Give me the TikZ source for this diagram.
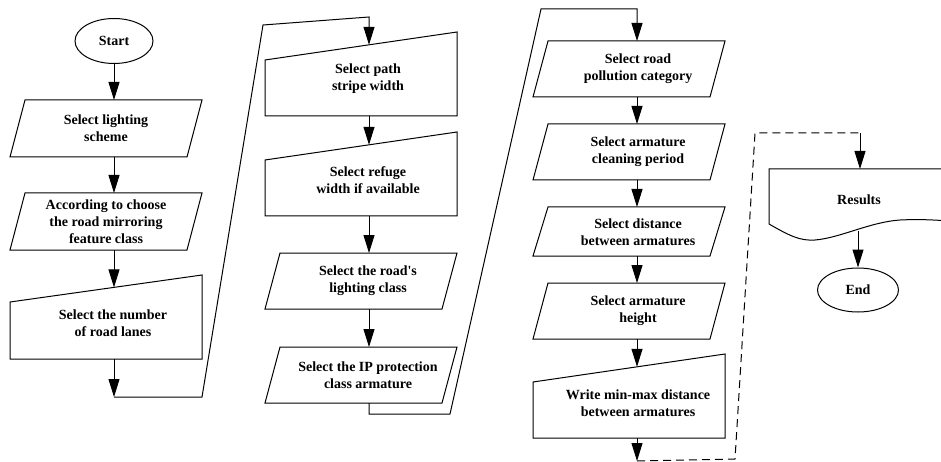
\documentclass[tikz,border=0pt]{standalone}
\usepackage{fontspec}
\setmainfont{Liberation Serif}
\usetikzlibrary{arrows.meta,calc,shapes.geometric}
\begin{document}
\begin{tikzpicture}[x=1pt,y=-1pt,
  box/.style={draw=black, line width=1pt, line join=miter},
  txt/.style={font=\bfseries\fontsize{14}{17}\selectfont, align=center, inner sep=0pt},
  link/.style={draw=black, line width=1pt},
  arr/.style={link, -{Triangle[length=18pt,width=11pt]}},
  dashlink/.style={link, dash pattern=on 8pt off 5pt},
]
\clip (0,0) rectangle (941,462);
\fill[white] (0,0) rectangle (941,462);

% ---------- column 1 ----------
\node[txt, box, ellipse, minimum width=78pt, minimum height=45pt] (start) at (114,41) {Start};

\draw[box] (25,100) -- (202,100) -- (187,157) -- (10,157) -- cycle;
\node[txt] (p1) at (106,128.5) {Select lighting\\scheme};
\coordinate (p1t) at (114,100); \coordinate (p1b) at (114,157);

\draw[box] (25,193) -- (202,193) -- (187,250) -- (10,250) -- cycle;
\node[txt] (p2) at (106,221.5) {According to choose\\the road mirroring\\feature class};
\coordinate (p2t) at (114,193); \coordinate (p2b) at (114,250);

\draw[box] (10,302) -- (202,275) -- (202,359) -- (10,359) -- cycle;
\node[txt] (mi1) at (113,323.5) {Select the number\\of road lanes};
\coordinate (mi1t) at (114,287.4); \coordinate (mi1b) at (114,359);

% ---------- column 2 ----------
\draw[box] (265,60) -- (457,32) -- (457,116) -- (265,116) -- cycle;
\node[txt] (mi2) at (368,79) {Select path\\stripe width};
\coordinate (mi2t) at (369,44.8); \coordinate (mi2b) at (369,116);

\draw[box] (265,160) -- (457,132) -- (457,216) -- (265,216) -- cycle;
\node[txt] (mi3) at (368,180) {Select refuge\\width if available};
\coordinate (mi3t) at (369,144.8); \coordinate (mi3b) at (369,216);

\draw[box] (280,253) -- (457,253) -- (442,309) -- (265,309) -- cycle;
\node[txt] (p3) at (368,281) {Select the road\textquotesingle s\\lighting class};
\coordinate (p3t) at (369,253); \coordinate (p3b) at (369,309);

\draw[box] (280,347) -- (457,347) -- (442,403) -- (265,403) -- cycle;
\node[txt] (p4) at (368,375) {Select the IP protection\\class armature};
\coordinate (p4t) at (369,347); \coordinate (p4b) at (369,403);

% ---------- column 3 ----------
\draw[box] (548,41) -- (725,41) -- (710,97) -- (533,97) -- cycle;
\node[txt] (p5) at (638,69) {Select road\\pollution category};
\coordinate (p5t) at (637,41); \coordinate (p5b) at (637,97);

\draw[box] (548,124) -- (725,124) -- (710,180) -- (533,180) -- cycle;
\node[txt] (p6) at (638,152) {Select armature\\cleaning period};
\coordinate (p6t) at (637,124); \coordinate (p6b) at (637,180);

\draw[box] (548,207) -- (725,207) -- (710,256) -- (533,256) -- cycle;
\node[txt] (p7) at (638,232) {Select distance\\between armatures};
\coordinate (p7t) at (637,207); \coordinate (p7b) at (637,256);

\draw[box] (548,283) -- (725,283) -- (710,339) -- (533,339) -- cycle;
\node[txt] (p8) at (638,311) {Select armature\\height};
\coordinate (p8t) at (637,283); \coordinate (p8b) at (637,339);

\draw[box] (533,382) -- (725,354) -- (725,438) -- (533,438) -- cycle;
\node[txt] (mi4) at (638,403) {Write min-max distance\\between armatures};
\coordinate (mi4t) at (637,366.8); \coordinate (mi4b) at (637,438);

% ---------- column 4 ----------
\draw[box] (769,169) -- (960,169) -- (960,222)
  .. controls (940,220) and (920,219) .. (900,220)
  .. controls (870,222) and (840,238) .. (815,240)
  .. controls (800,241) and (790,236) .. (769,224) -- cycle;
\node[txt] (res) at (859,200) {Results};
\coordinate (rest) at (860,169); \coordinate (resb) at (858,231);

\node[txt, box, ellipse, minimum width=81pt, minimum height=44pt] (end) at (858,290) {End};

% ---------- junction points ----------
\coordinate (j1) at (114,397); \coordinate (j2) at (202,397);
\coordinate (j3) at (263,25);  \coordinate (j4) at (369,17);
\coordinate (k1) at (369,414); \coordinate (k2) at (450,414);
\coordinate (k3) at (541,9);   \coordinate (k4) at (637,9);
\coordinate (d1) at (637,461); \coordinate (d2) at (735,459);
\coordinate (d3) at (755,133); \coordinate (d4) at (860,133);

% ---------- connectors ----------
\draw[arr] (start) -- (p1t);
\draw[arr] (p1b) -- (p2t);
\draw[arr] (p2b) -- (mi1t);
\draw[arr] (mi1b) -- (j1);
\draw[arr] (j1) -- (j2) -- (j3) -- (j4) -- (mi2t);
\draw[arr] (mi2b) -- (mi3t);
\draw[arr] (mi3b) -- (p3t);
\draw[arr] (p3b) -- (p4t);
\draw[arr] (p4b) -- (k1) -- (k2) -- (k3) -- (k4) -- (p5t);
\draw[arr] (p5b) -- (p6t);
\draw[arr] (p6b) -- (p7t);
\draw[arr] (p7b) -- (p8t);
\draw[arr] (p8b) -- (mi4t);
\draw[arr] (mi4b) -- (d1);
\draw[dashlink] (d1) -- (d2) -- (d3) -- (d4);
\draw[arr] (d4) -- (rest);
\draw[arr] (resb) -- (end);
\end{tikzpicture}
\end{document}
